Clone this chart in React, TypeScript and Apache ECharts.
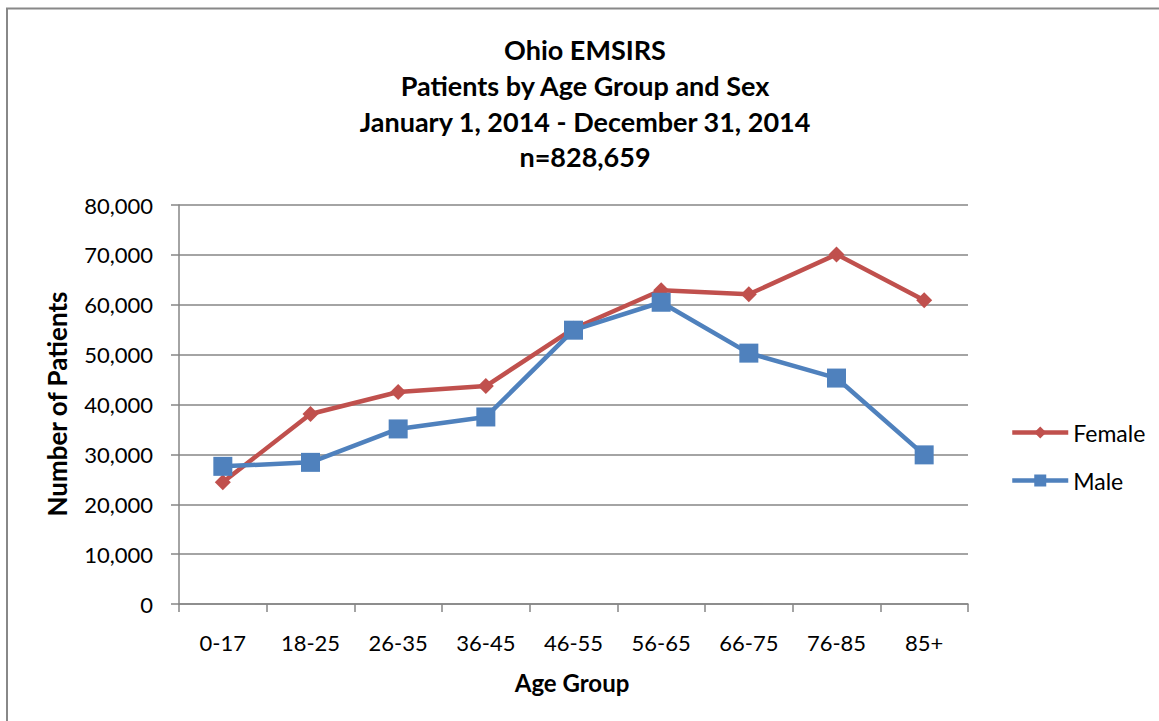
import React, { useEffect, useRef } from "react";
import * as echarts from "echarts";

const categories = ["0-17", "18-25", "26-35", "36-45", "46-55", "56-65", "66-75", "76-85", "85+"];
const femaleValues = [24400, 38100, 42500, 43700, 55200, 62900, 62100, 70100, 60900];
const maleValues = [27600, 28400, 35100, 37500, 54900, 60500, 50300, 45300, 29900];
const titleLines = [
  "Ohio EMSIRS",
  "Patients by Age Group and Sex",
  "January 1, 2014 - December 31, 2014",
  "n=828,659",
];
const xAxisTitle = "Age Group";
const yAxisTitle = "Number of Patients";

const FONT = "Lato, 'Open Sans', sans-serif";
const titleY = [49, 85, 121, 156];

export default function App() {
  const ref = useRef<HTMLDivElement>(null);
  useEffect(() => {
    if (!ref.current) return;
    const chart = echarts.init(ref.current, null, { renderer: "svg" });
    const titleTexts = titleLines.map((t, i) => ({
      type: "text",
      x: 585,
      y: titleY[i],
      style: {
        text: t,
        fontSize: 27,
        fontWeight: "bold",
        fontFamily: FONT,
        fill: "#000",
        textAlign: "center",
        textVerticalAlign: "middle",
      },
    }));
    chart.setOption({
      animation: false,
      backgroundColor: "#ffffff",
      textStyle: { fontFamily: FONT },
      graphic: [
        {
          type: "rect",
          shape: { x: 7, y: 8.5, width: 1200, height: 800 },
          style: { fill: "none", stroke: "#888888", lineWidth: 2 },
          silent: true,
        },
        ...titleTexts,
        {
          type: "text",
          x: 57,
          y: 404,
          rotation: Math.PI / 2,
          style: {
            text: yAxisTitle,
            fontSize: 26,
            fontWeight: "bold",
            fontFamily: FONT,
            fill: "#000",
            textAlign: "center",
            textVerticalAlign: "middle",
          },
        },
        {
          type: "text",
          x: 572,
          y: 682,
          style: {
            text: xAxisTitle,
            fontSize: 24,
            fontWeight: "bold",
            fontFamily: FONT,
            fill: "#000",
            textAlign: "center",
            textVerticalAlign: "middle",
          },
        },
      ],
      legend: {
        orient: "vertical",
        left: 1005,
        top: 416,
        itemWidth: 56,
        itemHeight: 15,
        itemGap: 25,
        lineStyle: { width: 4.5 },
        textStyle: { fontSize: 23, color: "#000", fontFamily: FONT },
        data: ["Female", "Male"],
      },
      grid: { left: 179, right: 191, top: 205, bottom: 117, containLabel: false },
      xAxis: {
        type: "category",
        data: categories,
        boundaryGap: true,
        axisLine: { lineStyle: { color: "#868686", width: 1.5 } },
        axisTick: { show: true, length: 8, alignWithLabel: false, lineStyle: { color: "#868686", width: 1.5 } },
        axisLabel: { fontSize: 22, color: "#000", margin: 27, fontFamily: FONT, interval: 0 },
        splitLine: { show: false },
      },
      yAxis: {
        type: "value",
        min: 0,
        max: 80000,
        interval: 10000,
        axisLine: { show: true, lineStyle: { color: "#868686", width: 1.5 } },
        axisTick: { show: true, length: 8, lineStyle: { color: "#868686", width: 1.5 } },
        axisLabel: {
          fontSize: 22,
          color: "#000",
          margin: 26,
          fontFamily: FONT,
          formatter: (v: number) => v.toLocaleString("en-US"),
        },
        splitLine: { show: true, lineStyle: { color: "#868686", width: 1.5 } },
      },
      series: [
        {
          name: "Female",
          type: "line",
          data: femaleValues,
          symbol: "diamond",
          symbolSize: 16,
          lineStyle: { color: "#C0504D", width: 4.5 },
          itemStyle: { color: "#C0504D" },
        },
        {
          name: "Male",
          type: "line",
          data: maleValues,
          symbol: "rect",
          symbolSize: 19,
          lineStyle: { color: "#4F81BD", width: 4.5 },
          itemStyle: { color: "#4F81BD" },
        },
      ],
    });
    return () => chart.dispose();
  }, []);
  return (
    <div
      ref={ref}
      style={{ position: "fixed", left: 0, top: 0, width: 1159, height: 721, background: "#fff" }}
    />
  );
}
